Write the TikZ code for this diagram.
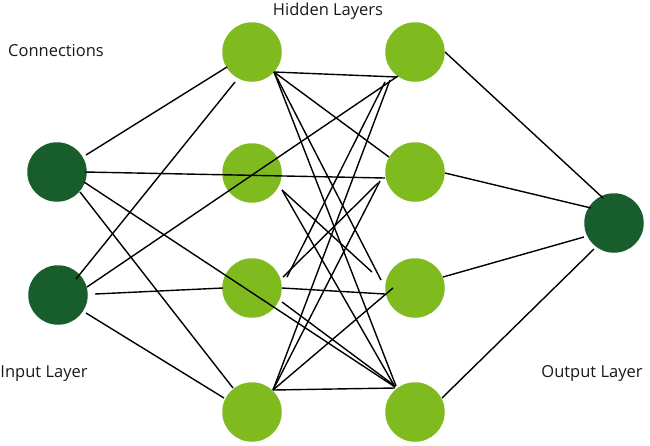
\documentclass[tikz,border=0pt]{standalone}
\usepackage{fontspec}
\setmainfont{Open Sans}
\usetikzlibrary{calc}
\definecolor{lightgr}{HTML}{7FBA1E}
\definecolor{darkgr}{HTML}{175E2C}
\begin{document}
\begin{tikzpicture}[x=1pt,y=-1pt,
  lightnode/.style={circle,fill=lightgr,minimum size=59.5pt,inner sep=0pt},
  darknode/.style={circle,fill=darkgr,minimum size=59.5pt,inner sep=0pt},
  conn/.style={line width=1.4pt,black},
  lbl/.style={font=\fontsize{16.5}{19}\selectfont,anchor=base,text=black!90}]
\useasboundingbox (0,0) rectangle (650,445);
% nodes
\node[darknode] (I1) at (57,172) {};
\node[darknode] (I2) at (58,295) {};
\node[lightnode] (H1) at (252,52) {};
\node[lightnode] (H2) at (252,173) {};
\node[lightnode] (H3) at (252,288) {};
\node[lightnode] (H4) at (252,412) {};
\node[lightnode] (H5) at (415,52) {};
\node[lightnode] (H6) at (415,172) {};
\node[lightnode] (H7) at (415,288) {};
\node[lightnode] (H8) at (415,412) {};
\node[darknode] (O) at (614,223) {};
% labels
\node[lbl] (tHidden) at (328,15) {Hidden Layers};
\node[lbl] (tConn) at (56,56) {Connections};
\node[lbl] (tIn) at (44,377) {Input Layer};
\node[lbl] (tOut) at (592,377) {Output Layer};
% input connections
\draw[conn] ($(I1)+(29,-17)$) -- ($(H1)+(-25,15)$);
\draw[conn] ($(I1)+(28,0)$) -- ($(H6)+(-30,6)$);
\draw[conn] ($(I1)+(27,10)$) -- ($(H8)+(-20,-25)$);
\draw[conn] ($(I1)+(23,20)$) -- ($(H4)+(-19,-24)$);
\draw[conn] ($(I2)+(18,-16)$) -- ($(H1)+(-17,30)$);
\draw[conn] ($(I2)+(29,-8)$) -- ($(H5)+(-17,24)$);
\draw[conn] ($(I2)+(37,-1)$) -- ($(H3)+(-29,0)$);
\draw[conn] ($(I2)+(28,18)$) -- ($(H4)+(-28,-14)$);
% hidden to hidden
\draw[conn] ($(H1)+(22,20)$) -- ($(H5)+(-18,25)$);
\draw[conn] ($(H1)+(22,20)$) -- ($(H6)+(-26,-15)$);
\draw[conn] ($(H1)+(22,20)$) -- ($(H7)+(-34,-8)$);
\draw[conn] ($(H1)+(22,20)$) -- ($(H8)+(-19,-26)$);
\draw[conn] ($(H2)+(30,17)$) -- ($(H7)+(-43,-16)$);
\draw[conn] ($(H2)+(30,17)$) -- ($(H8)+(-20,-25)$);
\draw[conn] ($(H3)+(30,0)$) -- ($(H7)+(-30,6)$);
\draw[conn] ($(H3)+(31,-11)$) -- ($(H6)+(-37,11)$);
\draw[conn] ($(H3)+(35,-11)$) -- ($(H5)+(-30,30)$);
\draw[conn] ($(H3)+(30,14)$) -- ($(H8)+(-20,-26)$);
\draw[conn] ($(H4)+(21,-22)$) -- ($(H8)+(-20,-24)$);
\draw[conn] ($(H4)+(21,-22)$) -- ($(H7)+(-22,0)$);
\draw[conn] ($(H4)+(21,-22)$) -- ($(H5)+(-25,28)$);
\draw[conn] ($(H4)+(21,-22)$) -- ($(H6)+(-35,9)$);
% hidden to output
\draw[conn] ($(H5)+(30,0)$) -- ($(O)+(-11,-25)$);
\draw[conn] ($(H6)+(30,1)$) -- ($(O)+(-23,-15)$);
\draw[conn] ($(H7)+(28,-11)$) -- ($(O)+(-30,14)$);
\draw[conn] ($(H8)+(27,-14)$) -- ($(O)+(-20,26)$);
\end{tikzpicture}
\end{document}
